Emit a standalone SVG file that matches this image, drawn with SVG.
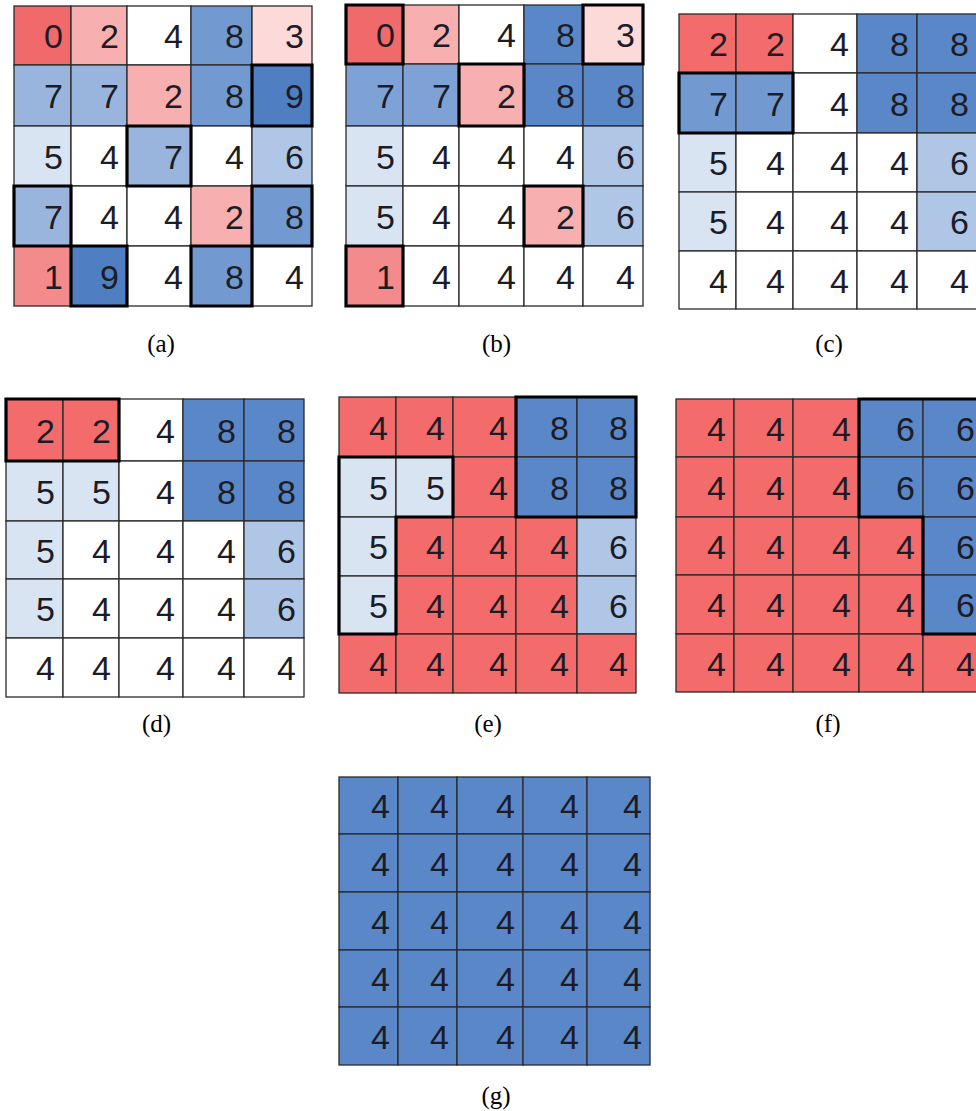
<svg xmlns="http://www.w3.org/2000/svg" width="976" height="1111" viewBox="0 0 976 1111">
<style>
g rect{stroke:#2a2a2a;stroke-width:1.3}
.r0{fill:#F0696B}.r1{fill:#F38A8C}.r2{fill:#F8AFAF}.r3{fill:#FCDADA}.w{fill:#FFFFFF}
.rs{fill:#F36B6B}.b5{fill:#D9E4F3}.b6{fill:#B0C6E6}.b7{fill:#9AB5DD}.b8{fill:#729AD0}.bm{fill:#7EA2D5}.b9{fill:#4F7EC3}.bs{fill:#5A87C7}
.thick{fill:none;stroke:#000;stroke-width:3.2;stroke-linejoin:miter}
text.n{font-family:"Liberation Sans",Arial,sans-serif;font-size:34px;text-anchor:end;fill:#1c1c26}
text.cap{font-family:"Liberation Serif","Times New Roman",serif;font-size:25px;text-anchor:middle;fill:#000}
</style>
<rect x="0" y="0" width="976" height="1111" fill="#fff"/>

<g id="grid-a">
<rect class="r0" x="14" y="6" width="57" height="59"/><rect class="r2" x="71" y="6" width="56" height="59"/><rect class="w" x="127" y="6" width="64" height="59"/><rect class="b8" x="191" y="6" width="61" height="59"/><rect class="r3" x="252" y="6" width="60" height="59"/>
<rect class="b7" x="14" y="65" width="57" height="61"/><rect class="b7" x="71" y="65" width="56" height="61"/><rect class="r2" x="127" y="65" width="64" height="61"/><rect class="b8" x="191" y="65" width="61" height="61"/><rect class="b9" x="252" y="65" width="60" height="61"/>
<rect class="b5" x="14" y="126" width="57" height="60"/><rect class="w" x="71" y="126" width="56" height="60"/><rect class="b7" x="127" y="126" width="64" height="60"/><rect class="w" x="191" y="126" width="61" height="60"/><rect class="b6" x="252" y="126" width="60" height="60"/>
<rect class="b7" x="14" y="186" width="57" height="60"/><rect class="w" x="71" y="186" width="56" height="60"/><rect class="w" x="127" y="186" width="64" height="60"/><rect class="r2" x="191" y="186" width="61" height="60"/><rect class="b8" x="252" y="186" width="60" height="60"/>
<rect class="r1" x="14" y="246" width="57" height="60"/><rect class="b9" x="71" y="246" width="56" height="60"/><rect class="w" x="127" y="246" width="64" height="60"/><rect class="b8" x="191" y="246" width="61" height="60"/><rect class="w" x="252" y="246" width="60" height="60"/>
<path class="thick" d="M252,65H312V126H252Z M127,126H191V186H127Z M14,186H71V246H14Z M252,186H312V246H252Z M71,246H127V306H71Z M191,246H252V306H191Z"/>
<text class="n" x="63" y="48">0</text><text class="n" x="119" y="48">2</text><text class="n" x="183" y="48">4</text><text class="n" x="244" y="48">8</text><text class="n" x="304" y="48">3</text>
<text class="n" x="63" y="108">7</text><text class="n" x="119" y="108">7</text><text class="n" x="183" y="108">2</text><text class="n" x="244" y="108">8</text><text class="n" x="304" y="108">9</text>
<text class="n" x="63" y="168.5">5</text><text class="n" x="119" y="168.5">4</text><text class="n" x="183" y="168.5">7</text><text class="n" x="244" y="168.5">4</text><text class="n" x="304" y="168.5">6</text>
<text class="n" x="63" y="228.5">7</text><text class="n" x="119" y="228.5">4</text><text class="n" x="183" y="228.5">4</text><text class="n" x="244" y="228.5">2</text><text class="n" x="304" y="228.5">8</text>
<text class="n" x="63" y="288.5">1</text><text class="n" x="119" y="288.5">9</text><text class="n" x="183" y="288.5">4</text><text class="n" x="244" y="288.5">8</text><text class="n" x="304" y="288.5">4</text>
<text class="cap" x="161" y="352">(a)</text>
</g>

<g id="grid-b">
<rect class="r0" x="346" y="5" width="57" height="59"/><rect class="r2" x="403" y="5" width="56" height="59"/><rect class="w" x="459" y="5" width="65" height="59"/><rect class="bs" x="524" y="5" width="59" height="59"/><rect class="r3" x="583" y="5" width="60" height="59"/>
<rect class="bm" x="346" y="64" width="57" height="62"/><rect class="bm" x="403" y="64" width="56" height="62"/><rect class="r2" x="459" y="64" width="65" height="62"/><rect class="bs" x="524" y="64" width="59" height="62"/><rect class="bs" x="583" y="64" width="60" height="62"/>
<rect class="b5" x="346" y="126" width="57" height="60"/><rect class="w" x="403" y="126" width="56" height="60"/><rect class="w" x="459" y="126" width="65" height="60"/><rect class="w" x="524" y="126" width="59" height="60"/><rect class="b6" x="583" y="126" width="60" height="60"/>
<rect class="b5" x="346" y="186" width="57" height="60"/><rect class="w" x="403" y="186" width="56" height="60"/><rect class="w" x="459" y="186" width="65" height="60"/><rect class="r2" x="524" y="186" width="59" height="60"/><rect class="b6" x="583" y="186" width="60" height="60"/>
<rect class="r1" x="346" y="246" width="57" height="60"/><rect class="w" x="403" y="246" width="56" height="60"/><rect class="w" x="459" y="246" width="65" height="60"/><rect class="w" x="524" y="246" width="59" height="60"/><rect class="w" x="583" y="246" width="60" height="60"/>
<path class="thick" d="M346,5H403V64H346Z M583,5H643V64H583Z M459,64H524V126H459Z M524,186H583V246H524Z M346,246H403V306H346Z"/>
<text class="n" x="395" y="47">0</text><text class="n" x="451" y="47">2</text><text class="n" x="516" y="47">4</text><text class="n" x="575" y="47">8</text><text class="n" x="635" y="47">3</text>
<text class="n" x="395" y="107.5">7</text><text class="n" x="451" y="107.5">7</text><text class="n" x="516" y="107.5">2</text><text class="n" x="575" y="107.5">8</text><text class="n" x="635" y="107.5">8</text>
<text class="n" x="395" y="168.5">5</text><text class="n" x="451" y="168.5">4</text><text class="n" x="516" y="168.5">4</text><text class="n" x="575" y="168.5">4</text><text class="n" x="635" y="168.5">6</text>
<text class="n" x="395" y="228.5">5</text><text class="n" x="451" y="228.5">4</text><text class="n" x="516" y="228.5">4</text><text class="n" x="575" y="228.5">2</text><text class="n" x="635" y="228.5">6</text>
<text class="n" x="395" y="288.5">1</text><text class="n" x="451" y="288.5">4</text><text class="n" x="516" y="288.5">4</text><text class="n" x="575" y="288.5">4</text><text class="n" x="635" y="288.5">4</text>
<text class="cap" x="496.5" y="352">(b)</text>
</g>

<g id="grid-c">
<rect class="rs" x="679" y="14" width="57" height="59"/><rect class="rs" x="736" y="14" width="57" height="59"/><rect class="w" x="793" y="14" width="64" height="59"/><rect class="bs" x="857" y="14" width="60" height="59"/><rect class="bs" x="917" y="14" width="60" height="59"/>
<rect class="b8" x="679" y="73" width="57" height="60"/><rect class="b8" x="736" y="73" width="57" height="60"/><rect class="w" x="793" y="73" width="64" height="60"/><rect class="bs" x="857" y="73" width="60" height="60"/><rect class="bs" x="917" y="73" width="60" height="60"/>
<rect class="b5" x="679" y="133" width="57" height="59"/><rect class="w" x="736" y="133" width="57" height="59"/><rect class="w" x="793" y="133" width="64" height="59"/><rect class="w" x="857" y="133" width="60" height="59"/><rect class="b6" x="917" y="133" width="60" height="59"/>
<rect class="b5" x="679" y="192" width="57" height="59"/><rect class="w" x="736" y="192" width="57" height="59"/><rect class="w" x="793" y="192" width="64" height="59"/><rect class="w" x="857" y="192" width="60" height="59"/><rect class="b6" x="917" y="192" width="60" height="59"/>
<rect class="w" x="679" y="251" width="57" height="58"/><rect class="w" x="736" y="251" width="57" height="58"/><rect class="w" x="793" y="251" width="64" height="58"/><rect class="w" x="857" y="251" width="60" height="58"/><rect class="w" x="917" y="251" width="60" height="58"/>
<path class="thick" d="M679,73H793V133H679Z"/>
<text class="n" x="728" y="56">2</text><text class="n" x="785" y="56">2</text><text class="n" x="849" y="56">4</text><text class="n" x="909" y="56">8</text><text class="n" x="969" y="56">8</text>
<text class="n" x="728" y="115.5">7</text><text class="n" x="785" y="115.5">7</text><text class="n" x="849" y="115.5">4</text><text class="n" x="909" y="115.5">8</text><text class="n" x="969" y="115.5">8</text>
<text class="n" x="728" y="175">5</text><text class="n" x="785" y="175">4</text><text class="n" x="849" y="175">4</text><text class="n" x="909" y="175">4</text><text class="n" x="969" y="175">6</text>
<text class="n" x="728" y="234">5</text><text class="n" x="785" y="234">4</text><text class="n" x="849" y="234">4</text><text class="n" x="909" y="234">4</text><text class="n" x="969" y="234">6</text>
<text class="n" x="728" y="292.5">4</text><text class="n" x="785" y="292.5">4</text><text class="n" x="849" y="292.5">4</text><text class="n" x="909" y="292.5">4</text><text class="n" x="969" y="292.5">4</text>
<text class="cap" x="829" y="352">(c)</text>
</g>

<g id="grid-d">
<rect class="rs" x="6" y="399" width="57" height="62"/><rect class="rs" x="63" y="399" width="56" height="62"/><rect class="w" x="119" y="399" width="64" height="62"/><rect class="bs" x="183" y="399" width="61" height="62"/><rect class="bs" x="244" y="399" width="60" height="62"/>
<rect class="b5" x="6" y="461" width="57" height="60"/><rect class="b5" x="63" y="461" width="56" height="60"/><rect class="w" x="119" y="461" width="64" height="60"/><rect class="bs" x="183" y="461" width="61" height="60"/><rect class="bs" x="244" y="461" width="60" height="60"/>
<rect class="b5" x="6" y="521" width="57" height="58"/><rect class="w" x="63" y="521" width="56" height="58"/><rect class="w" x="119" y="521" width="64" height="58"/><rect class="w" x="183" y="521" width="61" height="58"/><rect class="b6" x="244" y="521" width="60" height="58"/>
<rect class="b5" x="6" y="579" width="57" height="59"/><rect class="w" x="63" y="579" width="56" height="59"/><rect class="w" x="119" y="579" width="64" height="59"/><rect class="w" x="183" y="579" width="61" height="59"/><rect class="b6" x="244" y="579" width="60" height="59"/>
<rect class="w" x="6" y="638" width="57" height="59"/><rect class="w" x="63" y="638" width="56" height="59"/><rect class="w" x="119" y="638" width="64" height="59"/><rect class="w" x="183" y="638" width="61" height="59"/><rect class="w" x="244" y="638" width="60" height="59"/>
<path class="thick" d="M6,399H119V461H6Z"/>
<text class="n" x="55" y="442.5">2</text><text class="n" x="111" y="442.5">2</text><text class="n" x="175" y="442.5">4</text><text class="n" x="236" y="442.5">8</text><text class="n" x="296" y="442.5">8</text>
<text class="n" x="55" y="503.5">5</text><text class="n" x="111" y="503.5">5</text><text class="n" x="175" y="503.5">4</text><text class="n" x="236" y="503.5">8</text><text class="n" x="296" y="503.5">8</text>
<text class="n" x="55" y="562.5">5</text><text class="n" x="111" y="562.5">4</text><text class="n" x="175" y="562.5">4</text><text class="n" x="236" y="562.5">4</text><text class="n" x="296" y="562.5">6</text>
<text class="n" x="55" y="621">5</text><text class="n" x="111" y="621">4</text><text class="n" x="175" y="621">4</text><text class="n" x="236" y="621">4</text><text class="n" x="296" y="621">6</text>
<text class="n" x="55" y="680">4</text><text class="n" x="111" y="680">4</text><text class="n" x="175" y="680">4</text><text class="n" x="236" y="680">4</text><text class="n" x="296" y="680">4</text>
<text class="cap" x="156.5" y="732">(d)</text>
</g>

<g id="grid-e">
<rect class="rs" x="339" y="397" width="57" height="60"/><rect class="rs" x="396" y="397" width="57" height="60"/><rect class="rs" x="453" y="397" width="63" height="60"/><rect class="bs" x="516" y="397" width="61" height="60"/><rect class="bs" x="577" y="397" width="59" height="60"/>
<rect class="b5" x="339" y="457" width="57" height="60"/><rect class="b5" x="396" y="457" width="57" height="60"/><rect class="rs" x="453" y="457" width="63" height="60"/><rect class="bs" x="516" y="457" width="61" height="60"/><rect class="bs" x="577" y="457" width="59" height="60"/>
<rect class="b5" x="339" y="517" width="57" height="59"/><rect class="rs" x="396" y="517" width="57" height="59"/><rect class="rs" x="453" y="517" width="63" height="59"/><rect class="rs" x="516" y="517" width="61" height="59"/><rect class="b6" x="577" y="517" width="59" height="59"/>
<rect class="b5" x="339" y="576" width="57" height="58"/><rect class="rs" x="396" y="576" width="57" height="58"/><rect class="rs" x="453" y="576" width="63" height="58"/><rect class="rs" x="516" y="576" width="61" height="58"/><rect class="b6" x="577" y="576" width="59" height="58"/>
<rect class="rs" x="339" y="634" width="57" height="59"/><rect class="rs" x="396" y="634" width="57" height="59"/><rect class="rs" x="453" y="634" width="63" height="59"/><rect class="rs" x="516" y="634" width="61" height="59"/><rect class="rs" x="577" y="634" width="59" height="59"/>
<path class="thick" d="M516,397H636V517H516Z M339,457H453V517H396V634H339Z"/>
<text class="n" x="388" y="439.5">4</text><text class="n" x="445" y="439.5">4</text><text class="n" x="508" y="439.5">4</text><text class="n" x="569" y="439.5">8</text><text class="n" x="628" y="439.5">8</text>
<text class="n" x="388" y="499.5">5</text><text class="n" x="445" y="499.5">5</text><text class="n" x="508" y="499.5">4</text><text class="n" x="569" y="499.5">8</text><text class="n" x="628" y="499.5">8</text>
<text class="n" x="388" y="559">5</text><text class="n" x="445" y="559">4</text><text class="n" x="508" y="559">4</text><text class="n" x="569" y="559">4</text><text class="n" x="628" y="559">6</text>
<text class="n" x="388" y="617.5">5</text><text class="n" x="445" y="617.5">4</text><text class="n" x="508" y="617.5">4</text><text class="n" x="569" y="617.5">4</text><text class="n" x="628" y="617.5">6</text>
<text class="n" x="388" y="676">4</text><text class="n" x="445" y="676">4</text><text class="n" x="508" y="676">4</text><text class="n" x="569" y="676">4</text><text class="n" x="628" y="676">4</text>
<text class="cap" x="488" y="732">(e)</text>
</g>

<g id="grid-f">
<rect class="rs" x="676" y="399" width="58" height="58"/><rect class="rs" x="734" y="399" width="59" height="58"/><rect class="rs" x="793" y="399" width="66" height="58"/><rect class="bs" x="859" y="399" width="64" height="58"/><rect class="bs" x="923" y="399" width="60" height="58"/>
<rect class="rs" x="676" y="457" width="58" height="60"/><rect class="rs" x="734" y="457" width="59" height="60"/><rect class="rs" x="793" y="457" width="66" height="60"/><rect class="bs" x="859" y="457" width="64" height="60"/><rect class="bs" x="923" y="457" width="60" height="60"/>
<rect class="rs" x="676" y="517" width="58" height="58"/><rect class="rs" x="734" y="517" width="59" height="58"/><rect class="rs" x="793" y="517" width="66" height="58"/><rect class="rs" x="859" y="517" width="64" height="58"/><rect class="bs" x="923" y="517" width="60" height="58"/>
<rect class="rs" x="676" y="575" width="58" height="59"/><rect class="rs" x="734" y="575" width="59" height="59"/><rect class="rs" x="793" y="575" width="66" height="59"/><rect class="rs" x="859" y="575" width="64" height="59"/><rect class="bs" x="923" y="575" width="60" height="59"/>
<rect class="rs" x="676" y="634" width="58" height="58"/><rect class="rs" x="734" y="634" width="59" height="58"/><rect class="rs" x="793" y="634" width="66" height="58"/><rect class="rs" x="859" y="634" width="64" height="58"/><rect class="rs" x="923" y="634" width="60" height="58"/>
<path class="thick" d="M990,399H859V517H923V634H990"/>
<text class="n" x="726" y="440.5">4</text><text class="n" x="785" y="440.5">4</text><text class="n" x="851" y="440.5">4</text><text class="n" x="915" y="440.5">6</text><text class="n" x="975" y="440.5">6</text>
<text class="n" x="726" y="499.5">4</text><text class="n" x="785" y="499.5">4</text><text class="n" x="851" y="499.5">4</text><text class="n" x="915" y="499.5">6</text><text class="n" x="975" y="499.5">6</text>
<text class="n" x="726" y="558.5">4</text><text class="n" x="785" y="558.5">4</text><text class="n" x="851" y="558.5">4</text><text class="n" x="915" y="558.5">4</text><text class="n" x="975" y="558.5">6</text>
<text class="n" x="726" y="617">4</text><text class="n" x="785" y="617">4</text><text class="n" x="851" y="617">4</text><text class="n" x="915" y="617">4</text><text class="n" x="975" y="617">6</text>
<text class="n" x="726" y="675.5">4</text><text class="n" x="785" y="675.5">4</text><text class="n" x="851" y="675.5">4</text><text class="n" x="915" y="675.5">4</text><text class="n" x="975" y="675.5">4</text>
<text class="cap" x="828" y="732">(f)</text>
</g>

<g id="grid-g">
<rect class="bs" x="339" y="777" width="59" height="57"/><rect class="bs" x="398" y="777" width="59" height="57"/><rect class="bs" x="457" y="777" width="66" height="57"/><rect class="bs" x="523" y="777" width="64" height="57"/><rect class="bs" x="587" y="777" width="63" height="57"/>
<rect class="bs" x="339" y="834" width="59" height="58"/><rect class="bs" x="398" y="834" width="59" height="58"/><rect class="bs" x="457" y="834" width="66" height="58"/><rect class="bs" x="523" y="834" width="64" height="58"/><rect class="bs" x="587" y="834" width="63" height="58"/>
<rect class="bs" x="339" y="892" width="59" height="58"/><rect class="bs" x="398" y="892" width="59" height="58"/><rect class="bs" x="457" y="892" width="66" height="58"/><rect class="bs" x="523" y="892" width="64" height="58"/><rect class="bs" x="587" y="892" width="63" height="58"/>
<rect class="bs" x="339" y="950" width="59" height="57"/><rect class="bs" x="398" y="950" width="59" height="57"/><rect class="bs" x="457" y="950" width="66" height="57"/><rect class="bs" x="523" y="950" width="64" height="57"/><rect class="bs" x="587" y="950" width="63" height="57"/>
<rect class="bs" x="339" y="1007" width="59" height="58"/><rect class="bs" x="398" y="1007" width="59" height="58"/><rect class="bs" x="457" y="1007" width="66" height="58"/><rect class="bs" x="523" y="1007" width="64" height="58"/><rect class="bs" x="587" y="1007" width="63" height="58"/>
<text class="n" x="390" y="818">4</text><text class="n" x="449" y="818">4</text><text class="n" x="515" y="818">4</text><text class="n" x="579" y="818">4</text><text class="n" x="642" y="818">4</text>
<text class="n" x="390" y="875.5">4</text><text class="n" x="449" y="875.5">4</text><text class="n" x="515" y="875.5">4</text><text class="n" x="579" y="875.5">4</text><text class="n" x="642" y="875.5">4</text>
<text class="n" x="390" y="933.5">4</text><text class="n" x="449" y="933.5">4</text><text class="n" x="515" y="933.5">4</text><text class="n" x="579" y="933.5">4</text><text class="n" x="642" y="933.5">4</text>
<text class="n" x="390" y="991">4</text><text class="n" x="449" y="991">4</text><text class="n" x="515" y="991">4</text><text class="n" x="579" y="991">4</text><text class="n" x="642" y="991">4</text>
<text class="n" x="390" y="1048.5">4</text><text class="n" x="449" y="1048.5">4</text><text class="n" x="515" y="1048.5">4</text><text class="n" x="579" y="1048.5">4</text><text class="n" x="642" y="1048.5">4</text>
<text class="cap" x="496" y="1104">(g)</text>
</g>
</svg>
